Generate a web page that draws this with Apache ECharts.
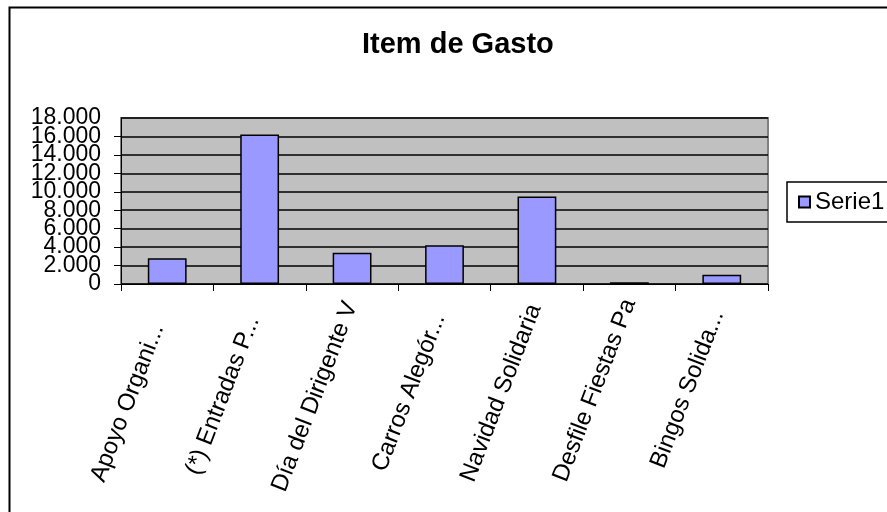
<!DOCTYPE html>
<html>
<head>
<meta charset="utf-8">
<script src="https://cdn.jsdelivr.net/npm/echarts@6/dist/echarts.min.js"></script>
<style>html,body{margin:0;padding:0;background:#fff;}#c{width:887px;height:512px;}</style>
</head>
<body>
<div id="c"></div>
<script>
var categories = ["Apoyo Organi...", "(*) Entradas P...", "Día del Dirigente V", "Carros Alegór...", "Navidad Solidaria", "Desfile Fiestas Pa", "Bingos Solida..."];
var serie1 = [2800, 16200, 3400, 4200, 9500, 200, 1000];
var yTicks = [0, 2000, 4000, 6000, 8000, 10000, 12000, 14000, 16000, 18000];
// vertical drop (px) of each rotated category label, so that labels sit bottom-aligned as in the reference
var labelDrop = [29, 20, 3, 17, 6, 0, 13];

var FONT = "Liberation Sans, Arial, sans-serif";
var ANG = 69;
var rad = ANG * Math.PI / 180;
var xData = categories.map(function (c, i) {
  var s = labelDrop[i];
  var r = Math.sin(rad) * s;
  var t = 2 * Math.cos(rad) * s;
  return {value: c, textStyle: {padding: [t, r, 0, 0]}};
});
var chart = echarts.init(document.getElementById('c'));
function fmt(v){ return String(v).replace(/\B(?=(\d{3})+(?!\d))/g, '.'); }
// the tick labels overlap slightly (as in the reference), so they are split over two
// coincident value axes: even ticks on one, odd ticks on the other
function labelFor(parity) {
  return function (v) {
    var i = yTicks.indexOf(v);
    return (i >= 0 && i % 2 === parity) ? fmt(v) : '';
  };
}
var yLabelStyle = {margin: 20, hideOverlap: false, fontFamily: FONT, fontSize: 23, color: '#000'};
chart.setOption({
  animation: false,
  backgroundColor: '#ffffff',
  graphic: [{
    type: 'rect', left: 7, top: 5, shape: {width: 920, height: 540},
    style: {fill: 'none', stroke: '#000', lineWidth: 2}, z: -1
  }],
  title: {
    text: 'Item de Gasto', left: 357, top: 25,
    textStyle: {fontFamily: FONT, fontSize: 29, fontWeight: 'bold', color: '#000'}
  },
  legend: {
    data: ['Serie1'], left: 787, top: 182, orient: 'vertical',
    itemWidth: 11, itemHeight: 11, icon: 'rect', itemGap: 0,
    padding: [8, 60, 8, 11],
    borderColor: '#000', borderWidth: 1.5, backgroundColor: '#fff',
    textStyle: {fontFamily: FONT, fontSize: 24, color: '#000'}
  },
  grid: {
    left: 121, top: 118, right: 119, bottom: 228,
    show: true, backgroundColor: '#c0c0c0', borderColor: '#808080', borderWidth: 2
  },
  xAxis: {
    type: 'category', data: xData,
    axisLine: {lineStyle: {color: '#000', width: 1}},
    axisTick: {show: true, interval: 0, length: 7, lineStyle: {color: '#000'}},
    axisLabel: {interval: 0, rotate: ANG, margin: 16, hideOverlap: false,
      fontFamily: FONT, fontSize: 24, color: '#000'}
  },
  yAxis: [{
    type: 'value', min: 0, max: 18000, interval: 2000, position: 'left',
    axisLine: {show: true, lineStyle: {color: '#000', width: 1}},
    axisTick: {show: true, length: 7, lineStyle: {color: '#000'}},
    splitLine: {show: true, lineStyle: {color: '#000', width: 1.5}},
    axisLabel: Object.assign({showMinLabel: true, showMaxLabel: false, formatter: labelFor(0)}, yLabelStyle)
  }, {
    type: 'value', min: 0, max: 18000, interval: 2000, position: 'left', offset: 0,
    axisLine: {show: false}, axisTick: {show: false}, splitLine: {show: false},
    axisLabel: Object.assign({showMinLabel: false, showMaxLabel: true, formatter: labelFor(1)}, yLabelStyle)
  }],
  series: [{
    name: 'Serie1', type: 'bar', data: serie1, barWidth: '42%', yAxisIndex: 0,
    itemStyle: {color: '#9999ff', borderColor: '#000', borderWidth: 1.5}
  }]
});
</script>
</body>
</html>
